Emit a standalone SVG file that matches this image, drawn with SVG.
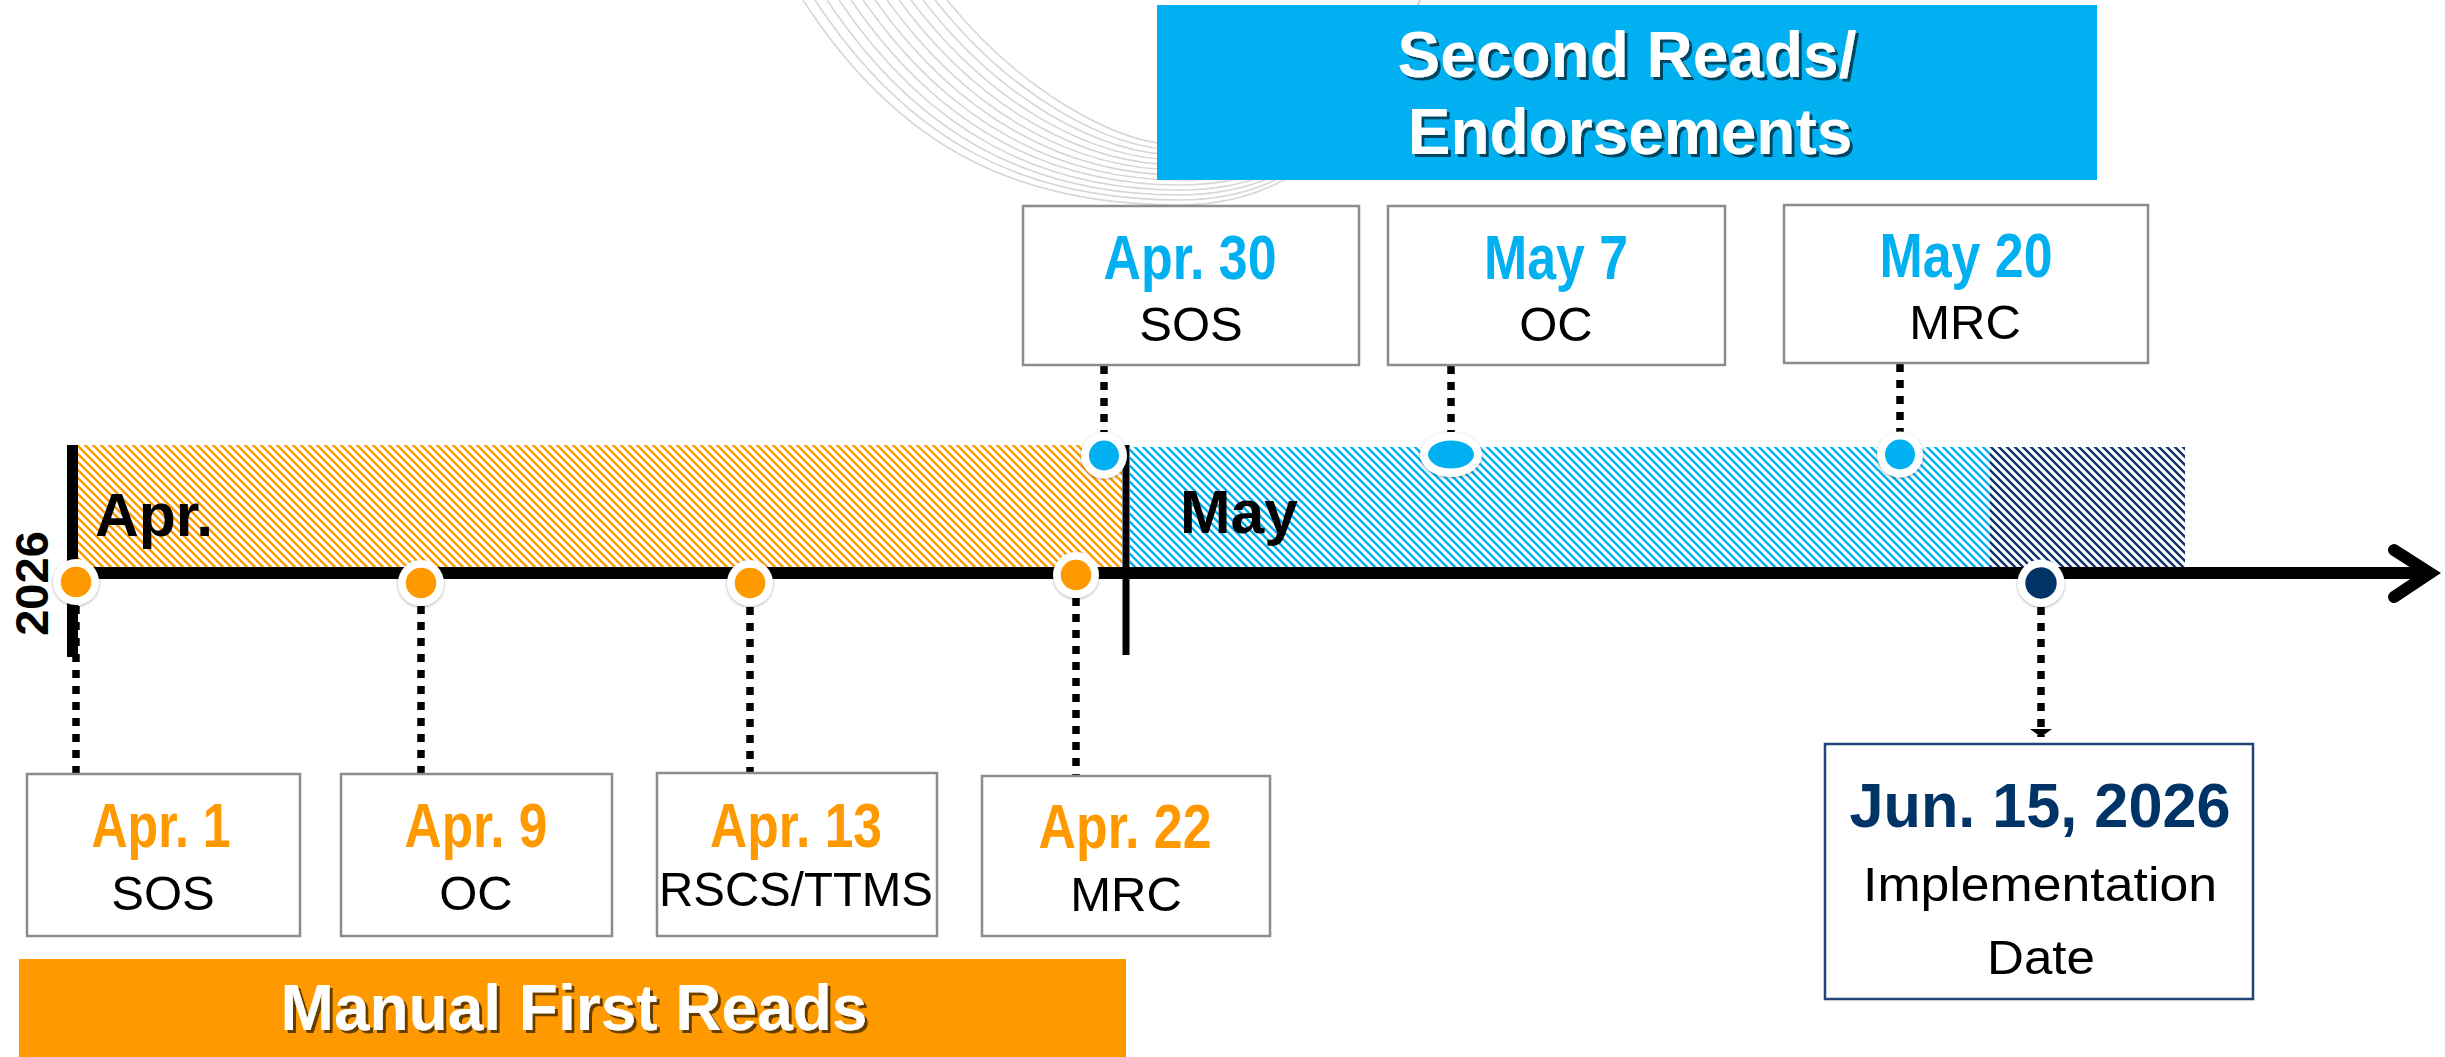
<svg xmlns="http://www.w3.org/2000/svg" width="2445" height="1057" viewBox="0 0 2445 1057">
<defs>
<style>
.sw{fill:none;stroke:#d6d6d6;stroke-width:1.6}
.box{fill:#fff;stroke:#8c8c8c;stroke-width:2.5}
.jbox{fill:#fff;stroke:#1f4477;stroke-width:2.5}
.dn{font-family:"Liberation Sans Narrow","Liberation Sans",Arial,sans-serif;font-weight:bold;font-size:63px;text-anchor:middle}
.o{fill:#ff9900}
.b{fill:#00b0f0}
.n{fill:#003366}
.lbl{font-family:"Liberation Sans",Arial,sans-serif;font-size:49px;fill:#000;text-anchor:middle}
.mon{font-family:"Liberation Sans",Arial,sans-serif;font-weight:bold;font-size:62px;fill:#000}
.hdr{font-family:"Liberation Sans",Arial,sans-serif;font-weight:bold;font-size:64px;fill:#fff;text-anchor:middle}
.conn{fill:none;stroke:#000;stroke-width:7.5;stroke-dasharray:8 8}
.ring{fill:#fff;filter:url(#ds)}
</style>
<pattern id="hO" patternUnits="userSpaceOnUse" width="8" height="8">
<path d="M-2,-2 L10,10 M-2,6 L2,10 M6,-2 L10,2" stroke="#ff9900" stroke-width="2.4"/>
</pattern>
<pattern id="hB" patternUnits="userSpaceOnUse" width="8" height="8">
<path d="M-2,-2 L10,10 M-2,6 L2,10 M6,-2 L10,2" stroke="#00b0f0" stroke-width="2.4"/>
</pattern>
<pattern id="hN" patternUnits="userSpaceOnUse" width="8" height="8">
<path d="M-2,-2 L10,10 M-2,6 L2,10 M6,-2 L10,2" stroke="#0b2f66" stroke-width="2.4"/>
</pattern>
<filter id="ds" x="-50%" y="-50%" width="200%" height="200%">
<feDropShadow dx="0" dy="1" stdDeviation="1.6" flood-color="#000" flood-opacity="0.35"/>
</filter>
<filter id="ts" x="-10%" y="-20%" width="120%" height="140%">
<feDropShadow dx="3" dy="3" stdDeviation="0.6" flood-color="#000" flood-opacity="0.6"/>
</filter>
<marker id="ah" markerUnits="userSpaceOnUse" markerWidth="14" markerHeight="24" refX="8" refY="12" orient="auto">
<path d="M0,1 L8,12 L0,23 z" fill="#000"/>
</marker>
</defs>

<g id="background-swirl">
<path class="sw" d="M803,0 C900,150 1020,205 1180,205 C1300,205 1380,120 1420,0"/>
<path class="sw" d="M815,0 C910,145 1028,200 1180,200 C1300,200 1380,118 1420,0"/>
<path class="sw" d="M827,0 C920,140 1036,195 1180,195 C1300,195 1380,116 1420,0"/>
<path class="sw" d="M839,0 C930,135 1044,190 1180,190 C1300,190 1380,114 1420,0"/>
<path class="sw" d="M851,0 C940,130 1052,185 1180,185 C1300,185 1380,112 1420,0"/>
<path class="sw" d="M863,0 C950,125 1060,180 1180,180 C1300,180 1380,110 1420,0"/>
<path class="sw" d="M875,0 C960,120 1068,175 1180,175 C1300,175 1380,108 1420,0"/>
<path class="sw" d="M887,0 C970,115 1076,170 1180,170 C1300,170 1380,106 1420,0"/>
<path class="sw" d="M899,0 C980,110 1084,165 1180,165 C1300,165 1380,104 1420,0"/>
<path class="sw" d="M911,0 C990,105 1092,160 1180,160 C1300,160 1380,102 1420,0"/>
<path class="sw" d="M923,0 C1000,100 1100,155 1180,155 C1300,155 1380,100 1420,0"/>
<path class="sw" d="M935,0 C1010,95 1108,150 1180,150 C1300,150 1380,98 1420,0"/>
<path class="sw" d="M947,0 C1020,90 1116,145 1180,145 C1300,145 1380,96 1420,0"/>
</g>

<g id="period-bars">
<rect x="78" y="445" width="1044" height="122" fill="url(#hO)"/>
<rect x="1130" y="447" width="860" height="120" fill="url(#hB)"/>
<rect x="1990" y="447" width="195" height="120" fill="url(#hN)"/>
<text class="mon" x="95" y="536" textLength="118" lengthAdjust="spacingAndGlyphs">Apr.</text>
<text class="mon" x="1180" y="533" textLength="118" lengthAdjust="spacingAndGlyphs">May</text>
</g>

<g id="axis">
<line x1="72" y1="573" x2="2430" y2="573" stroke="#000" stroke-width="12"/>
<polyline points="2394,550 2430,573 2394,597" fill="none" stroke="#000" stroke-width="12" stroke-linecap="round" stroke-linejoin="miter"/>
<rect x="67" y="445" width="11" height="212" fill="#000"/>
<rect x="1122.5" y="445" width="7" height="210" fill="#000"/>
<text transform="translate(48,583.5) rotate(-90)" font-family="Liberation Sans, Arial, sans-serif" font-weight="bold" font-size="47" text-anchor="middle" fill="#000">2026</text>
</g>

<g id="connectors">
<line class="conn" x1="76" y1="606" x2="76" y2="774"/>
<line class="conn" x1="421" y1="606" x2="421" y2="774"/>
<line class="conn" x1="750" y1="607" x2="750" y2="773"/>
<line class="conn" x1="1076" y1="598" x2="1076" y2="776"/>
<line class="conn" x1="1104" y1="366" x2="1104" y2="432"/>
<line class="conn" x1="1451" y1="366" x2="1451" y2="432"/>
<line class="conn" x1="1900" y1="364" x2="1900" y2="432"/>
<line class="conn" x1="2041" y1="607" x2="2041" y2="737" marker-end="url(#ah)"/>
</g>

<g id="apr1">
<circle class="ring" cx="76" cy="582" r="23"/>
<circle class="o" cx="76" cy="582" r="15.3"/>
<rect class="box" x="27" y="774" width="273" height="162"/>
<text class="dn o" x="161" y="847" textLength="139" lengthAdjust="spacingAndGlyphs">Apr. 1</text>
<text class="lbl" x="163" y="910">SOS</text>
</g>

<g id="apr9">
<circle class="ring" cx="421" cy="583" r="23"/>
<circle class="o" cx="421" cy="583" r="15.3"/>
<rect class="box" x="341" y="774" width="271" height="162"/>
<text class="dn o" x="476" y="847" textLength="143" lengthAdjust="spacingAndGlyphs">Apr. 9</text>
<text class="lbl" x="476" y="910">OC</text>
</g>

<g id="apr13">
<circle class="ring" cx="750" cy="583" r="23"/>
<circle class="o" cx="750" cy="583" r="15.3"/>
<rect class="box" x="657" y="773" width="280" height="163"/>
<text class="dn o" x="796" y="847" textLength="172" lengthAdjust="spacingAndGlyphs">Apr. 13</text>
<text class="lbl" x="796" y="906" textLength="274" lengthAdjust="spacingAndGlyphs">RSCS/TTMS</text>
</g>

<g id="apr22">
<circle class="ring" cx="1076" cy="575" r="23"/>
<circle class="o" cx="1076" cy="575" r="15.3"/>
<rect class="box" x="982" y="776" width="288" height="160"/>
<text class="dn o" x="1125" y="848" textLength="173" lengthAdjust="spacingAndGlyphs">Apr. 22</text>
<text class="lbl" x="1126" y="911">MRC</text>
</g>

<g id="apr30">
<circle class="ring" cx="1104" cy="455.5" r="23"/>
<circle class="b" cx="1104" cy="455.5" r="15"/>
<rect class="box" x="1023" y="206" width="336" height="159"/>
<text class="dn b" x="1190" y="279" textLength="173" lengthAdjust="spacingAndGlyphs">Apr. 30</text>
<text class="lbl" x="1191" y="341">SOS</text>
</g>

<g id="may7">
<ellipse class="ring" cx="1451" cy="454.5" rx="31" ry="22.5"/>
<ellipse class="b" cx="1451" cy="454.5" rx="23" ry="14"/>
<rect class="box" x="1388" y="206" width="337" height="159"/>
<text class="dn b" x="1556" y="279" textLength="144" lengthAdjust="spacingAndGlyphs">May 7</text>
<text class="lbl" x="1556" y="341">OC</text>
</g>

<g id="may20">
<circle class="ring" cx="1900" cy="454.5" r="23"/>
<circle class="b" cx="1900" cy="454.5" r="15"/>
<rect class="box" x="1784" y="205" width="364" height="158"/>
<text class="dn b" x="1966" y="277" textLength="173" lengthAdjust="spacingAndGlyphs">May 20</text>
<text class="lbl" x="1965" y="339">MRC</text>
</g>

<g id="jun15">
<circle class="ring" cx="2041" cy="583" r="23.5"/>
<circle class="n" cx="2041" cy="583" r="15.7"/>
<rect class="jbox" x="1825" y="744" width="428" height="255"/>
<text class="dn n" x="2040" y="827" font-size="76" textLength="381" lengthAdjust="spacingAndGlyphs">Jun. 15, 2026</text>
<text class="lbl" x="2040" y="901" font-size="61" textLength="354" lengthAdjust="spacingAndGlyphs">Implementation</text>
<text class="lbl" x="2041" y="974" font-size="61" textLength="108" lengthAdjust="spacingAndGlyphs">Date</text>
</g>

<g id="second-reads-header">
<rect x="1157" y="5" width="940" height="175" fill="#00b0f0"/>
<g filter="url(#ts)">
<text class="hdr" x="1627" y="77">Second Reads/</text>
<text class="hdr" x="1630" y="154">Endorsements</text>
</g>
</g>

<g id="manual-first-reads-header">
<rect x="19" y="959" width="1107" height="98" fill="#ff9900"/>
<text class="hdr" x="574" y="1030" font-size="63" filter="url(#ts)">Manual First Reads</text>
</g>
</svg>
